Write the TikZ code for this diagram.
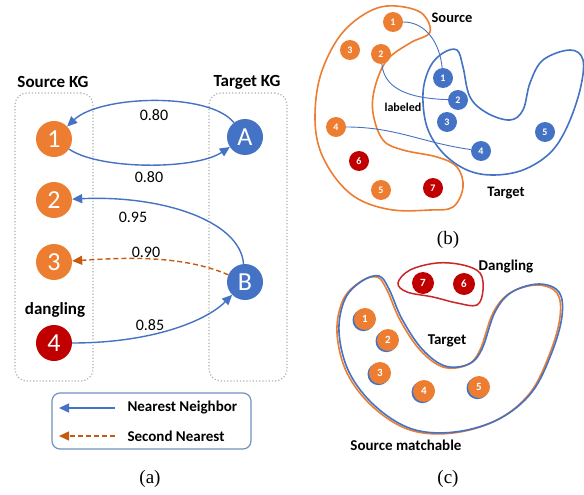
\documentclass[tikz,border=0pt]{standalone}
\usepackage{fontspec}
\setmainfont{Carlito}
\newfontfamily\capfont{Liberation Serif}
\usetikzlibrary{arrows.meta}
\definecolor{orC}{HTML}{ED7D31}
\definecolor{blC}{HTML}{4472C4}
\definecolor{rdC}{HTML}{C00000}
\definecolor{dorC}{HTML}{C55A11}
\definecolor{lgC}{HTML}{7090C0}
\definecolor{dotC}{HTML}{B0B0B0}
\begin{document}
\begin{tikzpicture}[x=1pt,y=-1pt,
  kgbox/.style={draw=dotC, dotted, line width=1.2pt, rounded corners=12pt, minimum width=78pt, minimum height=288pt},
  bignode/.style={circle, inner sep=0pt, minimum size=36pt, text=white, font=\fontsize{26}{26}\selectfont},
  smallnode/.style={circle, inner sep=0pt, minimum size=20pt, text=white, font=\bfseries\fontsize{10}{10}\selectfont},
  cnode/.style={circle, inner sep=0pt, minimum size=22pt, text=white, font=\bfseries\fontsize{11}{11}\selectfont},
  title/.style={font=\bfseries\fontsize{17}{17}\selectfont},
  lbl/.style={font=\bfseries\fontsize{15}{15}\selectfont},
  wlbl/.style={font=\fontsize{16}{16}\selectfont},
  caplbl/.style={font=\capfont\fontsize{19}{19}\selectfont},
  nn/.style={draw=blC, line width=1.4pt, -{Triangle[length=10pt,width=9pt]}},
  sn/.style={draw=dorC, line width=1.4pt, dashed, dash pattern=on 5pt off 3pt, -{Triangle[length=10pt,width=9pt]}},
  thin/.style={draw=blC, line width=0.9pt},
  oline/.style={draw=orC, line width=1.6pt},
  bline/.style={draw=blC, line width=1.6pt}]
\useasboundingbox (0,0) rectangle (584,495);

% ---------- panel (a)
\node[kgbox] (srcbox) at (54,237) {};
\node[kgbox] (tgtbox) at (248,237) {};
\node[title] (srct) at (53,82) {Source KG};
\node[title] (tgtt) at (247,82) {Target KG};

\node[bignode, fill=orC] (n1) at (54,139) {1};
\node[bignode, fill=orC] (n2) at (54,200) {2};
\node[bignode, fill=orC] (n3) at (54,262) {3};
\node[bignode, fill=rdC] (n4) at (54,343) {4};
\node[title] (dang) at (55,310) {dangling};
\node[bignode, fill=blC] (A) at (245,137) {A};
\node[bignode, fill=blC] (B) at (245,282) {B};

\draw[nn] (A) .. controls (210,92) and (100,95) .. (n1);
\draw[nn] (n1) .. controls (100,170) and (195,170) .. (A);
\draw[nn] (B) .. controls (240,220) and (160,195) .. (n2);
\draw[sn] (B) .. controls (180,254) and (120,258) .. (n3);
\draw[nn] (n4) .. controls (150,343) and (205,322) .. (B);

\node[wlbl] (l1) at (154,115) {0.80};
\node[wlbl] (l2) at (149,177) {0.80};
\node[wlbl] (l3) at (133,217) {0.95};
\node[wlbl] (l4) at (146,252) {0.90};
\node[wlbl] (l5) at (150,325) {0.85};

% legend
\node[draw=lgC, line width=1.2pt, rounded corners=8pt, minimum width=199pt, minimum height=56pt] (legend) at (151.5,421) {};
\coordinate (lg1s) at (115,408);
\coordinate (lg1e) at (59,408);
\coordinate (lg2s) at (115,436);
\coordinate (lg2e) at (59,436);
\draw[nn] (lg1s) -- (lg1e);
\draw[sn] (lg2s) -- (lg2e);
\node[lbl, anchor=west] (lgt1) at (124,408) {Nearest Neighbor};
\node[lbl, anchor=west] (lgt2) at (124,436) {Second Nearest};
\node[caplbl] (capa) at (150,479) {(a)};

% ---------- panel (b)
\draw[oline] plot[smooth cycle, tension=0.6] coordinates {
 (387,6) (420,12) (430,32) (410,43) (387,60) (375,87) (373,113) (383,140) (403,150)
 (437,157) (457,167) (463,187) (453,207) (430,210) (393,210) (360,200) (337,180)
 (320,150) (315,117) (320,77) (337,40) (360,17)};
\draw[bline] plot[smooth cycle, tension=0.6] coordinates {
 (457,50) (463,67) (470,97) (487,113) (510,120) (523,110) (530,83) (543,60) (570,50)
 (583,60) (580,90) (567,127) (550,153) (523,170) (493,175) (467,170) (443,153)
 (427,127) (423,93) (430,67) (443,53)};

\node[smallnode, fill=orC] (o1) at (393,22) {1};
\node[smallnode, fill=orC] (o3) at (350,50) {3};
\node[smallnode, fill=orC] (o2) at (381,54) {2};
\node[smallnode, fill=orC] (o4) at (336,127) {4};
\node[smallnode, fill=rdC] (o6) at (359,161) {6};
\node[smallnode, fill=orC] (o5) at (381,190) {5};
\node[smallnode, fill=rdC] (o7) at (433,188) {7};
\node[smallnode, fill=blC] (b1) at (443,78) {1};
\node[smallnode, fill=blC] (b2) at (458,100) {2};
\node[smallnode, fill=blC] (b3) at (447,122) {3};
\node[smallnode, fill=blC] (b4) at (481,151) {4};
\node[smallnode, fill=blC] (b5) at (545,132) {5};

\draw[thin] (o1) to[out=0,in=95] (b1);
\draw[thin] (o2) to[out=-85,in=178] (b2);
\draw[thin] (o4) to[out=0,in=172] (b4);

\node[font=\bfseries\fontsize{14.5}{14.5}\selectfont] (srcb) at (452,18) {Source};
\node[font=\bfseries\fontsize{12}{12}\selectfont] (labd) at (403,107) {labeled};
\node[font=\bfseries\fontsize{14.5}{14.5}\selectfont] (tgtb) at (506,193) {Target};
\node[caplbl] (capb) at (448,240) {(b)};

% ---------- panel (c)
\draw[draw=rdC!85, line width=1.5pt] plot[smooth cycle, tension=0.6] coordinates {
 (398,283) (410,270) (437,263) (463,265) (480,273) (483,290) (477,305) (457,303) (433,297) (407,292)};
\node[cnode, fill=rdC] (c7) at (423,283) {7};
\node[cnode, fill=rdC] (c6) at (464,284) {6};

\draw[oline] plot[smooth cycle, tension=0.6] coordinates {
 (377,277) (387,290) (400,320) (420,350) (443,367) (467,365) (480,350) (493,313) (510,293)
 (537,285) (557,293) (560,317) (550,353) (530,393) (497,420) (453,433) (410,430) (373,407)
 (347,373) (337,333) (343,300) (360,282)};
\begin{scope}[shift={(2,-1)}]
\draw[bline] plot[smooth cycle, tension=0.6] coordinates {
 (377,277) (387,290) (400,320) (420,350) (443,367) (467,365) (480,350) (493,313) (510,293)
 (537,285) (557,293) (560,317) (550,353) (530,393) (497,420) (453,433) (410,430) (373,407)
 (347,373) (337,333) (343,300) (360,282)};
\end{scope}

\foreach \nm/\px/\py/\t in {c1/365/319/1, c2/388/340/2, c3/380/373/3, c4/424/391/4, c5/479/387/5}{
  \node[circle, inner sep=0pt, minimum size=22pt, fill=blC] (\nm s) at (\px-1.5,\py+1.2) {};
  \node[cnode, fill=orC] (\nm) at (\px,\py) {\t};
}

\node[lbl] (dgc) at (506,267) {Dangling};
\node[lbl] (tgc) at (447,341) {Target};
\node[lbl] (smc) at (406,445) {Source matchable};
\node[caplbl] (capc) at (448,479) {(c)};
\end{tikzpicture}
\end{document}
